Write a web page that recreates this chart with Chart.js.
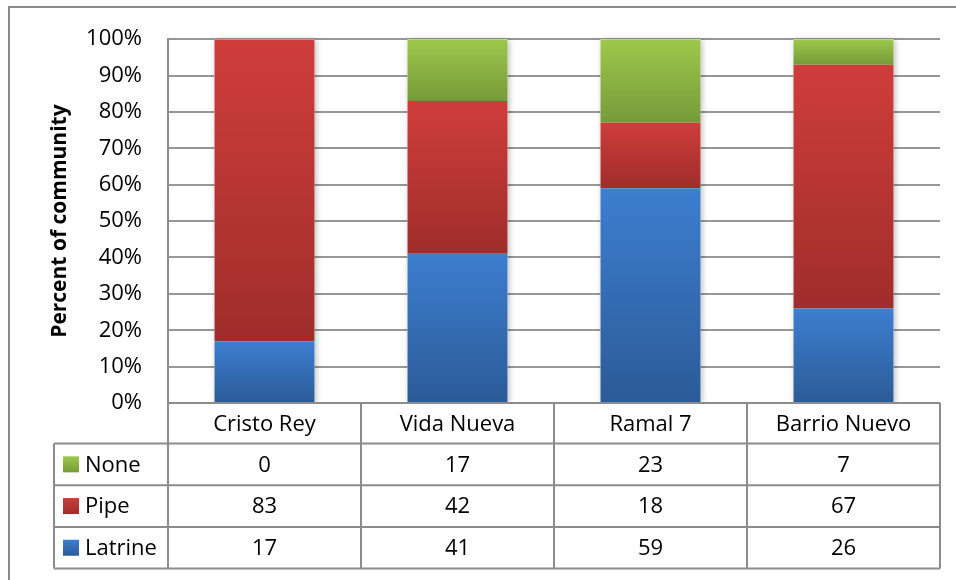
<!DOCTYPE html>
<html>
<head>
<meta charset="utf-8">
<script src="https://cdn.jsdelivr.net/npm/chart.js@4.4.1/dist/chart.umd.min.js"></script>
<style>
html,body{margin:0;padding:0;background:#fff;}
#wrap{width:956px;height:580px;position:relative;}
</style>
</head>
<body>
<div id="wrap"><canvas id="c" width="956" height="580"></canvas></div>
<script>
// ---- data ----
const categories = ['Cristo Rey', 'Vida Nueva', 'Ramal 7', 'Barrio Nuevo'];
const latrine = [17, 41, 59, 26];
const pipe = [83, 42, 18, 67];
const none = [0, 17, 23, 7];
const seriesNames = ['Latrine', 'Pipe', 'None'];
const yTickStep = 10;
const yAxisTitle = 'Percent of community';

const counts = [latrine, pipe, none];
const totals = categories.map((_, i) => counts.reduce((s, a) => s + a[i], 0));
const pct = counts.map(a => a.map((v, i) => v / totals[i] * 100));

const palette = [
  ['#3d7ed0', '#2b5b97'],   // Latrine
  ['#cf3d3b', '#9f2d2b'],   // Pipe
  ['#9ec84b', '#769a39']    // None
];

const FONT = "'Open Sans', 'Noto Sans', sans-serif";
const LINE = '#8c8c8c';
const PLOT_TOP = 36, PLOT_BOTTOM = 403;

function segGradient(dsIndex) {
  return (ctx) => {
    const chart = ctx.chart;
    const cols = palette[dsIndex];
    if (ctx.type !== 'data' || !chart.chartArea || !chart.scales.y) return cols[0];
    const i = ctx.dataIndex;
    let base = 0;
    for (let d = 0; d < dsIndex; d++) base += pct[d][i];
    const top = base + pct[dsIndex][i];
    const ys = chart.scales.y;
    const y0 = ys.getPixelForValue(top), y1 = ys.getPixelForValue(base);
    if (!isFinite(y0) || !isFinite(y1) || y1 - y0 < 0.5) return cols[0];
    const g = chart.ctx.createLinearGradient(0, y0, 0, y1);
    g.addColorStop(0, cols[0]);
    g.addColorStop(1, cols[1]);
    return g;
  };
}

const shadowPlugin = {
  id: 'barShadow',
  beforeDatasetsDraw(chart) {
    const ctx = chart.ctx, ca = chart.chartArea, ys = chart.scales.y;
    const meta = chart.getDatasetMeta(0);
    ctx.save();
    ctx.beginPath();
    ctx.rect(ca.left, 0, ca.right - ca.left, ca.bottom);
    ctx.clip();
    meta.data.forEach((el) => {
      const w = el.width;
      const top = ys.getPixelForValue(100);
      ctx.shadowColor = 'rgba(0,0,0,0.28)';
      ctx.shadowBlur = 6;
      ctx.shadowOffsetX = 1.5;
      ctx.shadowOffsetY = 1;
      ctx.fillStyle = '#ffffff';
      ctx.fillRect(el.x - w / 2, top, w, ca.bottom - top);
    });
    ctx.restore();
  }
};

const tablePlugin = {
  id: 'dataTable',
  beforeDraw(chart) {
    const ctx = chart.ctx;
    ctx.save();
    ctx.fillStyle = '#fff';
    ctx.fillRect(0, 0, chart.width, chart.height);
    ctx.strokeStyle = '#8a8a8a';
    ctx.lineWidth = 2;
    ctx.beginPath();
    ctx.moveTo(9, chart.height);
    ctx.lineTo(9, 7);
    ctx.lineTo(chart.width, 7);
    ctx.stroke();
    ctx.restore();
  },
  afterDraw(chart) {
    const ctx = chart.ctx, ca = chart.chartArea, xs = chart.scales.x;
    const n = categories.length;
    const colW = (ca.right - ca.left) / n;
    const headTop = ca.bottom;
    const headBot = headTop + 40.5;
    const rowH = 41.7;
    const legendLeft = 54;
    const rowsOrder = [2, 1, 0]; // None, Pipe, Latrine
    const tableBot = headBot + rowH * rowsOrder.length;

    ctx.save();
    ctx.strokeStyle = LINE;
    ctx.lineWidth = 2;
    ctx.beginPath();
    ctx.moveTo(ca.left, headTop); ctx.lineTo(ca.right, headTop);
    for (let r = 0; r <= rowsOrder.length; r++) {
      const y = headBot + r * rowH;
      ctx.moveTo(legendLeft, y); ctx.lineTo(ca.right, y);
    }
    for (let c = 0; c <= n; c++) {
      const x = ca.left + c * colW;
      ctx.moveTo(x, headTop); ctx.lineTo(x, tableBot);
    }
    ctx.moveTo(legendLeft, headBot); ctx.lineTo(legendLeft, tableBot);
    ctx.stroke();

    ctx.fillStyle = '#000';
    ctx.font = '22px ' + FONT;
    ctx.textAlign = 'center';
    ctx.textBaseline = 'middle';
    categories.forEach((cat, i) => {
      ctx.fillText(cat, xs.getPixelForValue(i), (headTop + headBot) / 2 + 1);
    });
    rowsOrder.forEach((s, r) => {
      const cy = headBot + r * rowH + rowH / 2;
      counts[s].forEach((v, i) => {
        ctx.fillStyle = '#000';
        ctx.textAlign = 'center';
        ctx.fillText(String(v), xs.getPixelForValue(i), cy + 1);
      });
      const g = ctx.createLinearGradient(0, cy - 8, 0, cy + 8);
      g.addColorStop(0, palette[s][0]);
      g.addColorStop(1, palette[s][1]);
      ctx.fillStyle = g;
      ctx.fillRect(63, cy - 8, 16, 16);
      ctx.fillStyle = '#000';
      ctx.textAlign = 'left';
      ctx.fillText(seriesNames[s], 85, cy + 1);
    });
    ctx.restore();
  }
};

const chart = new Chart(document.getElementById('c'), {
  type: 'bar',
  data: {
    labels: categories,
    datasets: seriesNames.map((name, d) => ({
      label: name,
      data: pct[d],
      backgroundColor: segGradient(d),
      borderWidth: 0,
      categoryPercentage: 0.518,
      barPercentage: 1.0
    }))
  },
  options: {
    responsive: false,
    animation: false,
    events: [],
    layout: { padding: { left: 0, right: 16, top: 36, bottom: 177 } },
    plugins: { legend: { display: false }, tooltip: { enabled: false }, title: { display: false } },
    scales: {
      x: {
        stacked: true,
        display: false
      },
      y: {
        stacked: true,
        min: 0,
        max: 100,
        afterFit(scale) { scale.width = 168; },
        border: { display: true, color: LINE, width: 2 },
        grid: { color: '#979797', lineWidth: 2, drawTicks: false },
        ticks: {
          stepSize: yTickStep,
          padding: 26,
          color: '#000',
          font: { family: FONT, size: 22 },
          callback: (v) => v + '%'
        },
        title: {
          display: true,
          text: yAxisTitle,
          color: '#000',
          font: { family: FONT, size: 21, weight: 'bold' },
          padding: { top: 47, bottom: 0 }
        }
      }
    }
  },
  plugins: [shadowPlugin, tablePlugin]
});

// align the plot area with the reference frame
for (let k = 0; k < 3; k++) {
  const ca = chart.chartArea;
  const p = chart.options.layout.padding;
  const dt = PLOT_TOP - ca.top, db = ca.bottom - PLOT_BOTTOM;
  if (Math.abs(dt) < 0.25 && Math.abs(db) < 0.25) break;
  p.top += dt;
  p.bottom += db;
  chart.update();
}
</script>
</body>
</html>
